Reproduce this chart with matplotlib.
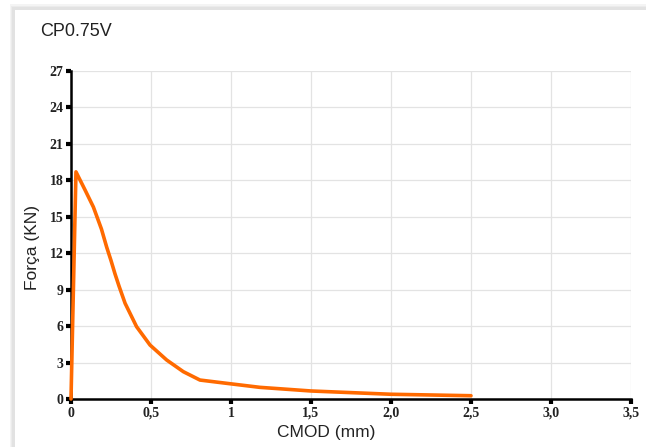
import matplotlib

matplotlib.use("Agg")
import matplotlib.pyplot as plt
from matplotlib.patches import Rectangle

# data
cmod = [0, 0.031, 0.088, 0.14, 0.19, 0.223, 0.25, 0.275, 0.30, 0.338, 0.41, 0.494,
        0.598, 0.702, 0.806, 0.973, 1.18, 1.5, 2.0, 2.5]
forca = [0, 18.7, 17.2, 15.8, 14.0, 12.5, 11.4, 10.3, 9.3, 7.88, 5.95, 4.44,
         3.21, 2.25, 1.56, 1.29, 0.96, 0.66, 0.39, 0.27]

x_ticks = [0, 0.5, 1.0, 1.5, 2.0, 2.5, 3.0, 3.5]
x_labels = ["0", "0,5", "1", "1,5", "2,0", "2,5", "3,0", "3,5"]
y_ticks = list(range(0, 28, 3))

fig = plt.figure(figsize=(6.46, 4.47), dpi=100)

# card shadow on the top/left edges
for i, c in enumerate(["#f4f4f4", "#ebebeb", "#e2e2e2"]):
    fig.add_artist(Rectangle((10 / 646 + i * 1.2 / 646, 0), 1, 1 - (4 + i * 1.5) / 447,
                             transform=fig.transFigure, facecolor=c, edgecolor="none", zorder=-3))
fig.add_artist(Rectangle((15 / 646, 0), 1, 1 - 10 / 447,
                         transform=fig.transFigure, facecolor="white", edgecolor="none", zorder=-2))

ax = fig.add_axes([71 / 646, 1 - 399 / 447, 560 / 646, 328 / 447])
ax.set_facecolor("none")
ax.plot(cmod, forca, color="#ff6a00", lw=2.6, solid_capstyle="round",
        solid_joinstyle="round", clip_on=False, zorder=3)

ax.set_xlim(0, 3.5)
ax.set_ylim(0, 27)
ax.set_xticks(x_ticks)
ax.set_xticklabels(x_labels)
ax.set_yticks(y_ticks)
ax.grid(True, color="#e3e3e3", lw=0.9)
ax.set_axisbelow(True)

for s in ["top", "right"]:
    ax.spines[s].set_visible(False)
for s in ["left", "bottom"]:
    ax.spines[s].set_linewidth(1.8)
    ax.spines[s].set_color("black")

ax.tick_params(length=3.5, width=3, color="black", pad=2)
for lab in ax.get_xticklabels() + ax.get_yticklabels():
    lab.set_family("Liberation Serif")
    lab.set_fontweight("bold")
    lab.set_fontsize(10)
    lab.set_color("#222222")

fig.text(326 / 646, 1 - 433 / 447, "CMOD (mm)", family="Liberation Sans", fontsize=12.5,
         ha="center", va="center", color="#222222")
fig.text(32 / 646, 1 - 248 / 447, "Força (KN)", family="Liberation Sans", fontsize=12.5,
         ha="center", va="center", rotation=90, color="#222222")
fig.text(40 / 646, 1 - 31 / 447, "CP0.75V", family="Liberation Sans", fontsize=13,
         va="center", ha="left", color="#222222")

fig.savefig("out.png", dpi=100)
